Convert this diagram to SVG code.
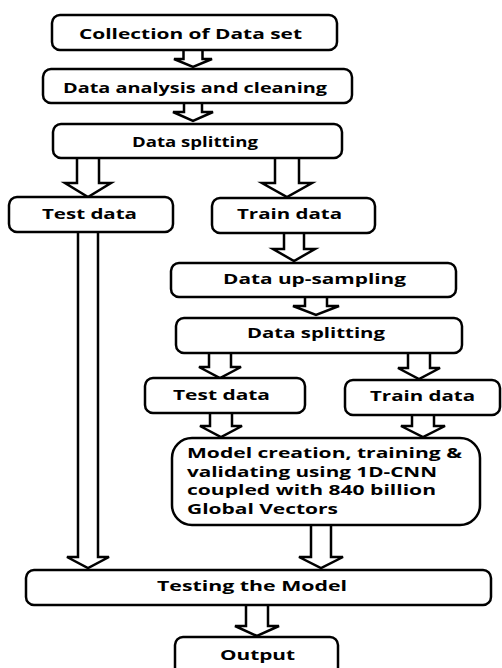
<svg xmlns="http://www.w3.org/2000/svg" width="502" height="668" viewBox="0 0 502 668">
<style>
.box{fill:#fff;stroke:#000;stroke-width:2.5}
.arr{fill:#fff;stroke:#000;stroke-width:2.5;stroke-linejoin:miter}
text{font-family:"Open Sans","DejaVu Sans",sans-serif;font-weight:700;font-size:14px;fill:#000}
.c{text-anchor:middle}
.m{font-size:13.5px}
</style>
<rect width="502" height="668" fill="#fff"/>
<g id="connectors">
<path class="arr" d="M183.5,50 V59 H174 L193,67 L212,59 H202.5 V50"/>
<path class="arr" d="M184,103 V112 H173 L193,121 L213,112 H202 V103"/>
<path class="arr" d="M77,158 V183 H65 L88,197 L111,183 H99 V158"/>
<path class="arr" d="M275,158 V183 H262 L287,197 L312,183 H299 V158"/>
<path class="arr" d="M284,233 V249 H273 L294,261 L315,249 H304 V233"/>
<path class="arr" d="M305,297 V306 H293 L316,315 L339,306 H327 V297"/>
<path class="arr" d="M209,353 V367 H199 L220,378 L241,367 H231 V353"/>
<path class="arr" d="M408,353 V368 H398 L419,379 L440,368 H430 V353"/>
<path class="arr" d="M210,413 V426 H200 L221,437 L242,426 H232 V413"/>
<path class="arr" d="M412,415 V426 H401 L423,437 L445,426 H434 V415"/>
<path class="arr" d="M78,232 V557 H67 L88,568 L109,557 H98 V232"/>
<path class="arr" d="M311,525 V557 H299 L321,568 L343,557 H331 V525"/>
<path class="arr" d="M246,605 V626 H235 L257,636 L279,626 H268 V605"/>
</g>
<g id="n1"><rect class="box" x="52" y="15" width="285" height="35" rx="8"/><text x="190.5" y="39" class="c" textLength="223" lengthAdjust="spacingAndGlyphs">Collection of Data set</text></g>
<g id="n2"><rect class="box" x="43" y="69" width="309" height="34" rx="8"/><text x="195" y="93" class="c" textLength="264" lengthAdjust="spacingAndGlyphs">Data analysis and cleaning</text></g>
<g id="n3"><rect class="box" x="53" y="124" width="289" height="34" rx="8"/><text x="195" y="147" class="c" textLength="126" lengthAdjust="spacingAndGlyphs">Data splitting</text></g>
<g id="n4"><rect class="box" x="9" y="197" width="164" height="35" rx="8"/><text x="89.5" y="219" class="c" textLength="95" lengthAdjust="spacingAndGlyphs">Test data</text></g>
<g id="n5"><rect class="box" x="212" y="198" width="163" height="35" rx="8"/><text x="289.5" y="219" class="c" textLength="105" lengthAdjust="spacingAndGlyphs">Train data</text></g>
<g id="n6"><rect class="box" x="171" y="263" width="285" height="34" rx="8"/><text x="314.5" y="284" class="c" textLength="183" lengthAdjust="spacingAndGlyphs">Data up-sampling</text></g>
<g id="n7"><rect class="box" x="176" y="318" width="286" height="35" rx="8"/><text x="316" y="338" class="c" textLength="138" lengthAdjust="spacingAndGlyphs">Data splitting</text></g>
<g id="n8"><rect class="box" x="145" y="378" width="160" height="35" rx="8"/><text x="221.5" y="400" class="c" textLength="97" lengthAdjust="spacingAndGlyphs">Test data</text></g>
<g id="n9"><rect class="box" x="345" y="380" width="155" height="35" rx="8"/><text x="422.5" y="401" class="c" textLength="105" lengthAdjust="spacingAndGlyphs">Train data</text></g>
<g id="n10"><rect class="box" x="172" y="438" width="308" height="87" rx="20"/>
<text class="m" x="187" y="458" textLength="275" lengthAdjust="spacingAndGlyphs">Model creation, training &amp;</text>
<text class="m" x="187" y="476.5" textLength="250" lengthAdjust="spacingAndGlyphs">validating using 1D-CNN</text>
<text class="m" x="187" y="495" textLength="249" lengthAdjust="spacingAndGlyphs">coupled with 840 billion</text>
<text class="m" x="187" y="513.5" textLength="151" lengthAdjust="spacingAndGlyphs">Global Vectors</text></g>
<g id="n11"><rect class="box" x="26" y="570" width="465" height="35" rx="8"/><text x="252" y="591" class="c" textLength="190" lengthAdjust="spacingAndGlyphs">Testing the Model</text></g>
<g id="n12"><rect class="box" x="175" y="637" width="163" height="45" rx="8"/><text x="257.5" y="660" class="c" textLength="75" lengthAdjust="spacingAndGlyphs">Output</text></g>
</svg>
